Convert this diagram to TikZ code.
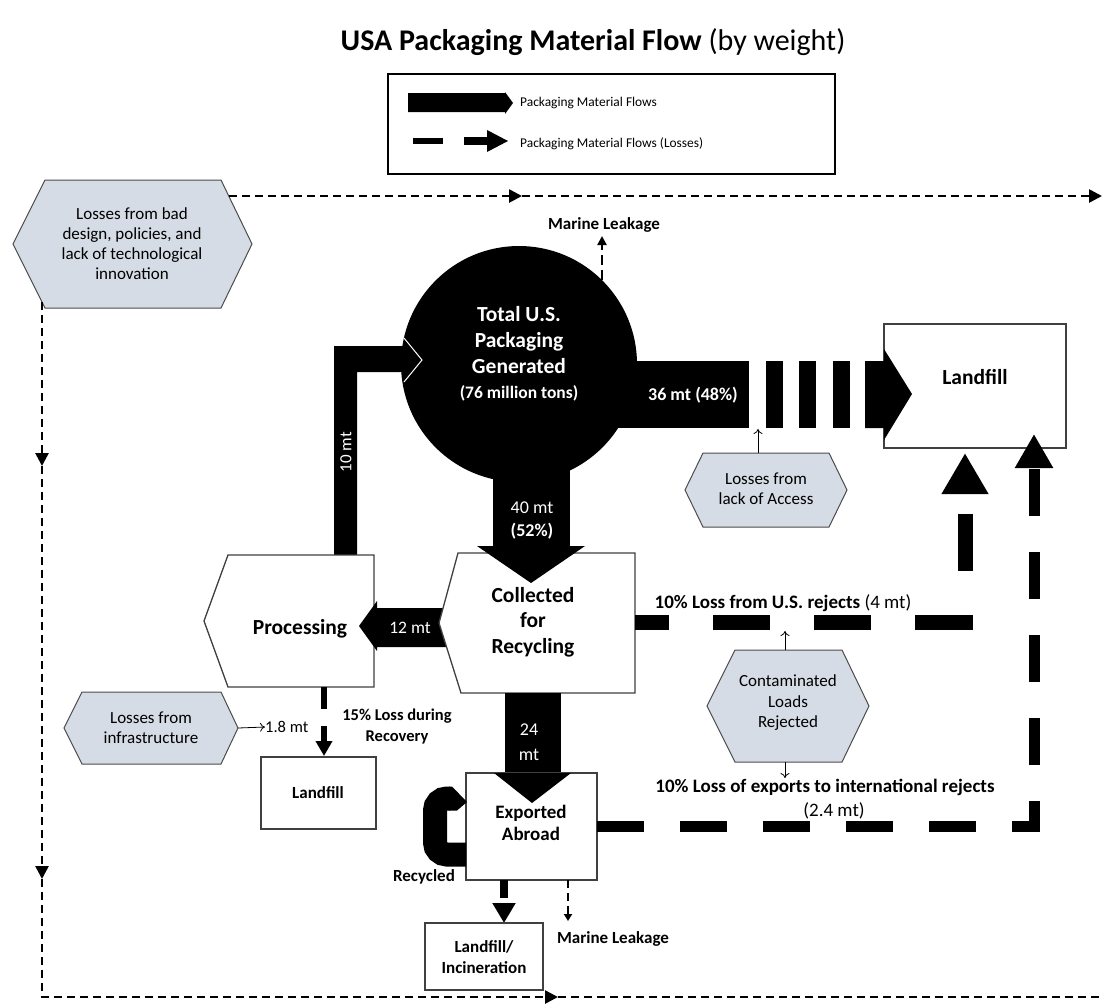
\documentclass[tikz,border=0pt]{standalone}
\usepackage{fontspec}
\setmainfont{Carlito}
\usetikzlibrary{arrows.meta}
\definecolor{lossfill}{RGB}{214,220,229}

\begin{document}
\begin{tikzpicture}[x=1pt, y=-1pt,
  hexa/.style={fill=lossfill, draw=black!70, line width=1pt},
  plainbox/.style={fill=white, draw=black!75, line width=1.3pt},
  lbl/.style={align=center, inner sep=0pt},
  fbig/.style={font=\bfseries\fontsize{21.5}{26}\selectfont},
  fhex/.style={font=\fontsize{17}{20}\selectfont},
  fnote/.style={font=\bfseries\fontsize{17}{21}\selectfont},
  fflow/.style={font=\fontsize{18}{23}\selectfont, text=white},
  thinarr/.style={line width=0.8pt, -{To[length=5pt,width=9pt]}},
  leak/.style={line width=2.6pt, dash pattern=on 8pt off 5pt},
  leaktip/.style={-{Triangle[length=13pt,width=13pt]}}]
  \useasboundingbox (0,0) rectangle (1102,1005);

  \node[lbl, font=\fontsize{30}{36}\selectfont] (title) at (593,42) {\textbf{USA Packaging Material Flow} (by weight)};

  % legend
  \draw[line width=1.5pt] (388,74) rectangle (835,174);
  \fill (408,93) -- (505,93) -- (505,92) -- (513,103) -- (505,114) -- (505,112) -- (408,112) -- cycle;
  \node[lbl, anchor=west, font=\fontsize{13.4}{16}\selectfont] (legflow) at (520,103) {Packaging Material Flows};
  \fill (413,138) rectangle (443,144);
  \fill (464,137) rectangle (488,145);
  \fill (487,130) -- (508,141) -- (487,152) -- cycle;
  \node[lbl, anchor=west, font=\fontsize{13.4}{16}\selectfont] (legloss) at (520,144) {Packaging Material Flows (Losses)};

  % outer losses
  \draw[hexa] (13,244) -- (45,180) -- (221,180) -- (252,244) -- (221,308) -- (45,308) -- cycle;
  \node[lbl, fhex, text depth=0pt] (design) at (132,244) {Losses from bad\\design, policies, and\\lack of technological\\innovation};
  \coordinate (design-ne) at (229,196);
  \coordinate (design-sw) at (42,302);
  \coordinate (top-mid) at (522,196);
  \coordinate (top-east) at (1102,196);
  \coordinate (west-a) at (42,466);
  \coordinate (west-b) at (42,879);
  \coordinate (west-s) at (42,997);
  \coordinate (bottom-mid) at (558,997);
  \coordinate (bottom-east) at (1102,997);
  \draw[leak, leaktip] (design-ne) -- (top-mid);
  \draw[leak, leaktip] (top-mid) -- (top-east);
  \draw[leak, leaktip] (design-sw) -- (west-a);
  \draw[leak, leaktip] (west-a) -- (west-b);
  \draw[leak, leaktip] (west-b) -- (west-s) -- (bottom-mid);
  \draw[leak] (bottom-mid) -- (bottom-east);

  % generated
  \fill (519,364) circle (118);
  \coordinate (circle-ne) at (602,280);
  \coordinate (marine-tip) at (602,236);
  \draw[line width=2.4pt, dash pattern=on 10pt off 5pt, -{Triangle[length=9pt,width=9pt]}] (circle-ne) -- (marine-tip);
  \node[lbl, fnote] (marine1) at (604,225) {Marine Leakage};
  \node[lbl, fbig, text=white] (total) at (519,340) {Total U.S.\\Packaging\\Generated};
  \node[lbl, font=\bfseries\fontsize{17.5}{21}\selectfont, text=white] (tons) at (519,393) {(76 million tons)};

  % to landfill
  \fill (600,361) rectangle (749,428);
  \foreach \x in {766,799,833} \fill (\x,361) rectangle ++(17,67);
  \draw[plainbox] (884,324) rectangle (1066,448);
  \fill (865,361) -- (884,361) -- (884,349) -- (912,394) -- (884,440) -- (884,428) -- (865,428) -- cycle;
  \node[lbl, fbig] (landfill) at (975,377) {Landfill};
  \node[lbl, fflow, font=\bfseries\fontsize{18}{23}\selectfont] (share36) at (693,395) {36 mt (48\%)};
  \draw[hexa] (685,490) -- (703,453) -- (829,453) -- (847,490) -- (829,527) -- (703,527) -- cycle;
  \node[lbl, fhex] (access) at (766,489) {Losses from\\lack of Access};
  \coordinate (access-n) at (758,453);
  \coordinate (bar-s) at (758,429);
  \draw[thinarr] (access-n) -- (bar-s);

  % processing loop
  \fill (334,555) -- (334,346) -- (404,346) -- (404,338) -- (422,360) -- (404,382) -- (404,372) -- (357,372) -- (357,555) -- cycle;
  \draw[white, line width=1pt] (404,338) -- (422,360) -- (404,382);
  \node[lbl, fflow, font=\fontsize{17}{20}\selectfont, rotate=90] (share10) at (346,452) {10 mt};
  \draw[plainbox] (228,555) -- (374,555) -- (374,687) -- (228,687) -- (204,621) -- cycle;
  \node[lbl, fbig] (proc) at (300,629) {Processing};
  \fill (450,608) -- (377,608) -- (377,601) -- (359,626) -- (377,651) -- (377,647) -- (450,647) -- cycle;
  \node[lbl, fflow, font=\fontsize{17.5}{21}\selectfont] (share12) at (410,628) {12 mt};

  % collected
  \fill (493,440) rectangle (570,546);
  \draw[plainbox] (458,553) -- (635,553) -- (635,693) -- (461,693) -- (439,623) -- cycle;
  \fill (477,546) -- (585,546) -- (531,583) -- cycle;
  \node[lbl, fflow] (share40) at (532,521) {40 mt\\\textbf{(52\%)}};
  \node[lbl, fbig, font=\bfseries\fontsize{21.5}{25.5}\selectfont] (coll) at (533,622) {Collected\\for\\Recycling};

  % U.S. rejects
  \coordinate (coll-e) at (635,622);
  \coordinate (rej-corner) at (965,622);
  \coordinate (landfill-s1) at (965,453);
  \draw[line width=15pt, dash pattern=on 57pt off 44pt, dash phase=23pt, -{Triangle[length=41pt,width=44pt]}] (coll-e) -- (rej-corner) -- (landfill-s1);
  \node[lbl, font=\fontsize{19}{23}\selectfont] (rejus) at (783,603) {\textbf{10\% Loss from U.S. rejects} (4 mt)};
  \draw[hexa] (707,706) -- (735,650) -- (842,650) -- (869,706) -- (842,762) -- (735,762) -- cycle;
  \node[lbl, fhex, font=\fontsize{17}{20.5}\selectfont] (contam) at (788,703) {Contaminated\\Loads\\Rejected};
  \coordinate (contam-n) at (785,650);
  \coordinate (contam-s) at (785,762);
  \coordinate (rej-s) at (785,631);
  \coordinate (exp-n) at (785,778);
  \draw[thinarr] (contam-n) -- (rej-s);
  \draw[thinarr] (contam-s) -- (exp-n);

  % recovery losses
  \coordinate (proc-s) at (324,687);
  \coordinate (landfill2-n) at (324,756);
  \draw[line width=6pt, dash pattern=on 22pt off 17pt, -{Triangle[length=15pt,width=16pt]}] (proc-s) -- (landfill2-n);
  \node[lbl, fnote, font=\bfseries\fontsize{16.5}{21}\selectfont] (recov) at (397,726) {15\% Loss during\\Recovery};
  \draw[hexa] (64,728) -- (82,692) -- (221,692) -- (238,728) -- (221,764) -- (82,764) -- cycle;
  \node[lbl, fhex] (infra) at (151,728) {Losses from\\infrastructure};
  \coordinate (infra-e) at (238,728);
  \node[lbl, anchor=west, font=\fontsize{16.5}{20}\selectfont] (share18) at (265,727) {1.8 mt};
  \draw[thinarr] (infra-e) -- (share18.west);
  \draw[plainbox] (261,757) rectangle (376,829);
  \node[lbl, fnote] (landfill2) at (318,793) {Landfill};

  % exports
  \fill (505,693) rectangle (561,773);
  \draw[plainbox] (466,773) rectangle (597,880);
  \fill (494,773) -- (571,773) -- (532,803) -- cycle;
  \node[lbl, fflow, font=\fontsize{18}{25}\selectfont] (share24) at (529,742) {24\\mt};
  \node[lbl, font=\bfseries\fontsize{19}{22}\selectfont] (export) at (531,823) {Exported\\Abroad};
  \draw[line width=24pt, rounded corners=12pt] (466,854.5) -- (435,854.5) -- (435,798.5) -- (450,798.5);
  \fill (449,786.5) -- (452,786.5) -- (467,802) -- (457,810.5) -- (449,810.5) -- cycle;
  \node[lbl, fnote] (recyc) at (424,877) {Recycled};
  \coordinate (exp-e) at (597,826);
  \coordinate (exp-corner) at (1034,826);
  \coordinate (landfill-s2) at (1034,434);
  \draw[line width=11pt, dash pattern=on 47pt off 36pt, -{Triangle[length=34pt,width=36pt]}] (exp-e) -- (exp-corner) -- (landfill-s2);
  \node[lbl, fnote, font=\bfseries\fontsize{19}{23}\selectfont] (rejint) at (825,787) {10\% Loss of exports to international rejects};
  \node[lbl, font=\fontsize{19}{23}\selectfont] (share24b) at (834,811) {(2.4 mt)};
  \coordinate (exp-s1) at (504,880);
  \coordinate (exp-s2) at (568,880);
  \coordinate (incin-n) at (504,923);
  \coordinate (marine2-tip) at (568,921);
  \draw[line width=8pt, dash pattern=on 18pt off 5pt, -{Triangle[length=20pt,width=22pt]}] (exp-s1) -- (incin-n);
  \draw[line width=2pt, dash pattern=on 8pt off 5pt, -{Triangle[length=7pt,width=8pt]}] (exp-s2) -- (marine2-tip);
  \node[lbl, fnote] (marine2) at (613,939) {Marine Leakage};
  \draw[plainbox] (425,923) rectangle (543,990);
  \node[lbl, fnote, font=\bfseries\fontsize{17}{21}\selectfont] (incin) at (484,957) {Landfill/\\Incineration};
\end{tikzpicture}
\end{document}
